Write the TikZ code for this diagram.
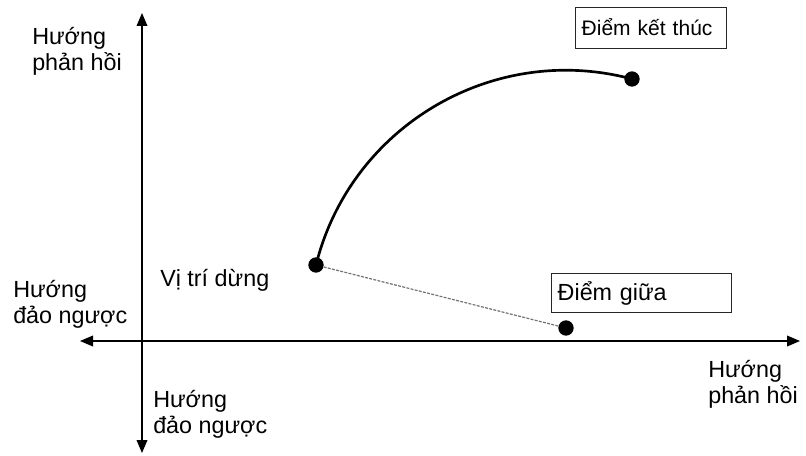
\documentclass[tikz,border=0pt]{standalone}
\usepackage{fontspec}
\setmainfont{Liberation Sans}
\usetikzlibrary{arrows.meta,positioning}

\tikzset{
  axis/.style={line width=1.1pt,{Triangle[length=9.75pt,width=8pt]}-{Triangle[length=9.75pt,width=8pt]}},
  dot/.style={circle,fill,inner sep=0pt,minimum size=11.5pt},
  lbl/.style={anchor=base west,inner sep=0pt,align=left,font=\fontsize{17.5}{19.5}\selectfont},
  tag/.style={draw=black!85,line width=1.1pt,anchor=north west,align=left,
    inner xsep=4.5pt,inner ysep=0pt,text height=11.25pt,text depth=0pt}
}

\begin{document}
\begin{tikzpicture}[x=0.75pt,y=0.75pt,font=\fontsize{15.75}{19.5}\selectfont]
  \useasboundingbox (0,0) rectangle (806,-456);
  % axes
  \coordinate (yt) at (142,-13);
  \coordinate (yb) at (142,-453);
  \coordinate (xl) at (80,-341);
  \coordinate (xr) at (800,-341);
  \draw[axis] (yb) -- (yt);
  \draw[axis] (xl) -- (xr);
  % points
  \node[dot] (stop) at (316,-265) {};
  \node[dot] (mid) at (566,-328) {};
  \node[dot] (endpt) at (632,-79) {};
  \draw[black!55,line width=0.9pt,dash pattern=on 2.2pt off 1pt] (stop) -- (mid);
  \draw[line width=2pt] (stop.center) to[out=76,in=165] (endpt.center);
  % labels (base = last line)
  \node[lbl] (fbY) at (32,-71) {Hướng\\phản hồi};
  \node[lbl] (revX) at (13,-323) {Hướng\\đảo ngược};
  \node[lbl] (stopLbl) at (160,-286) {Vị trí dừng};
  \node[lbl] (fbX) at (708,-403) {Hướng\\phản hồi};
  \node[lbl] (revY) at (153,-433) {Hướng\\đảo ngược};
  \node[tag,text width=104.25pt,minimum height=30.75pt] (endTag) at (575,-7) {Điểm kết thúc};
  \node[tag,text width=126pt,minimum height=29.25pt,font=\fontsize{17.5}{19.5}\selectfont] (midTag) at (551,-273) {Điểm giữa};
\end{tikzpicture}
\end{document}
